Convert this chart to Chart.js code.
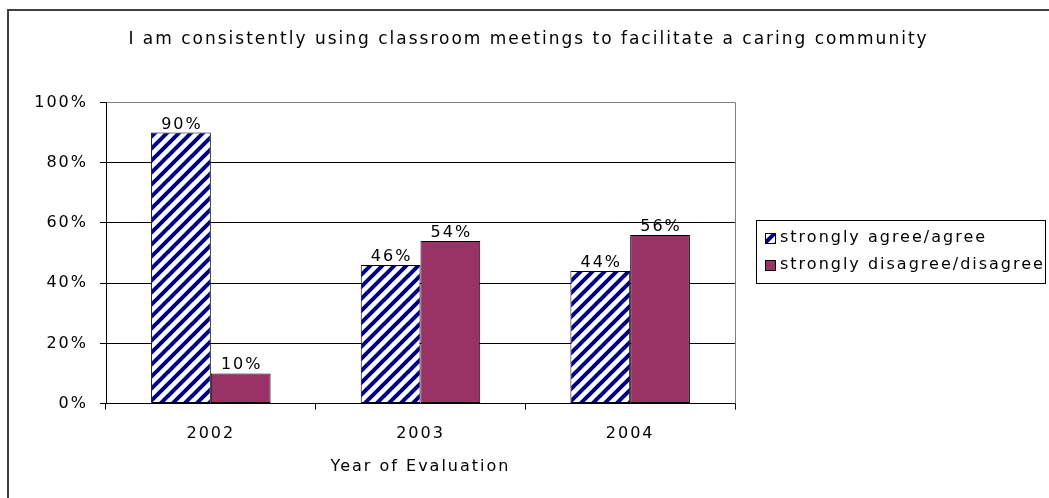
<!DOCTYPE html>
<html>
<head>
<meta charset="utf-8">
<script src="https://cdn.jsdelivr.net/npm/chart.js@4"></script>
<style>
  body { margin: 0; background: #fff; }
  #wrap { width: 1049px; height: 498px; }
</style>
</head>
<body>
<div id="wrap"><canvas id="myChart" width="1049" height="498"></canvas></div>
<script>
var years = ['2002', '2003', '2004'];
var agree = [90, 46, 44];
var disagree = [10, 54, 56];
var seriesNames = ['strongly agree/agree', 'strongly disagree/disagree'];
var chartTitle = 'I am consistently using classroom meetings to facilitate a caring community';
var axisTitle = 'Year of Evaluation';

var FONT = 'DejaVu Sans';

// navy diagonal hatch like the old excel fill
function hatch() {
  var c = document.createElement('canvas');
  c.width = 12; c.height = 12;
  var g = c.getContext('2d');
  g.fillStyle = '#fff';
  g.fillRect(0, 0, 12, 12);
  g.strokeStyle = '#000080';
  g.lineWidth = 4;
  g.beginPath();
  g.moveTo(0, 12); g.lineTo(12, 0);
  g.moveTo(-6, 6); g.lineTo(6, -6);
  g.moveTo(6, 18); g.lineTo(18, 6);
  g.stroke();
  return g.createPattern(c, 'repeat');
}
var navyHatch = hatch();

var spacing = {
  id: 'spacing',
  beforeUpdate: function(chart) { chart.ctx.letterSpacing = '2px'; },
  beforeDraw: function(chart) {
    var ctx = chart.ctx;
    ctx.letterSpacing = '2px';
    ctx.save();
    ctx.fillStyle = '#fff';
    ctx.fillRect(0, 0, chart.width, chart.height);
    // outer frame (only left and top are visible in the picture)
    ctx.strokeStyle = '#404040';
    ctx.lineWidth = 2;
    ctx.beginPath();
    ctx.moveTo(8, chart.height);
    ctx.lineTo(8, 10);
    ctx.lineTo(chart.width, 10);
    ctx.stroke();
    ctx.restore();
  }
};

var extras = {
  id: 'extras',
  afterDatasetsDraw: function(chart) {
    var ctx = chart.ctx;
    ctx.save();
    ctx.font = '16px ' + FONT;
    ctx.fillStyle = '#000';
    ctx.textAlign = 'center';
    ctx.textBaseline = 'alphabetic';
    chart.data.datasets.forEach(function(ds, i) {
      chart.getDatasetMeta(i).data.forEach(function(bar, j) {
        ctx.fillText(ds.data[j] + '%', bar.x + 1, bar.y - 4);
      });
    });
    ctx.restore();
  },
  afterDraw: function(chart) {
    var ctx = chart.ctx;
    var a = chart.chartArea;
    ctx.save();
    // plot area right border
    ctx.strokeStyle = '#808080';
    ctx.lineWidth = 1;
    ctx.beginPath();
    ctx.moveTo(Math.round(a.right) + 0.5, a.top);
    ctx.lineTo(Math.round(a.right) + 0.5, a.bottom);
    ctx.stroke();

    // legend
    var lx = 756, ly = 220, lw = 289, lh = 63;
    ctx.strokeStyle = '#000';
    ctx.strokeRect(lx + 0.5, ly + 0.5, lw, lh);
    ctx.font = '16px ' + FONT;
    ctx.textBaseline = 'middle';
    ctx.textAlign = 'left';
    chart.data.datasets.forEach(function(ds, i) {
      var cy = ly + 18 + i * 27;
      ctx.fillStyle = ds.backgroundColor;
      ctx.fillRect(765, cy - 5, 10, 10);
      ctx.strokeStyle = '#000';
      ctx.strokeRect(765.5, cy - 4.5, 10, 10);
      ctx.fillStyle = '#000';
      ctx.fillText(ds.label, 780, cy);
    });
    ctx.restore();
  }
};

var ctx = document.getElementById('myChart').getContext('2d');
var myChart = new Chart(ctx, {
  type: 'bar',
  data: {
    labels: years,
    datasets: [{
      label: seriesNames[0],
      data: agree,
      backgroundColor: navyHatch,
      borderColor: '#000',
      borderWidth: 1,
      borderSkipped: false
    }, {
      label: seriesNames[1],
      data: disagree,
      backgroundColor: '#993366',
      borderColor: '#000',
      borderWidth: 1,
      borderSkipped: false
    }]
  },
  options: {
    responsive: false,
    animation: false,
    devicePixelRatio: 1,
    layout: { padding: { left: 8, right: 0, top: 0, bottom: 22 } },
    datasets: { bar: { categoryPercentage: 0.57, barPercentage: 1 } },
    plugins: {
      legend: { display: false },
      tooltip: { enabled: false },
      title: {
        display: true,
        text: chartTitle,
        color: '#000',
        font: { family: FONT, size: 17, weight: 'normal' },
        padding: { top: 29, bottom: 53 }
      }
    },
    scales: {
      x: {
        grid: { offset: true, drawOnChartArea: false, color: '#000', tickLength: 6 },
        border: { color: '#000', width: 1 },
        ticks: { color: '#000', font: { family: FONT, size: 16 }, padding: 15 },
        title: {
          display: true,
          text: axisTitle,
          color: '#000',
          font: { family: FONT, size: 16 },
          padding: { top: -2, bottom: 0 }
        }
      },
      y: {
        min: 0,
        max: 100,
        afterFit: function(scale) { scale.width = 98; },
        grid: {
          color: function(c) { return c.tick && c.tick.value === 100 ? '#808080' : '#000'; },
          tickColor: '#000',
          tickLength: 6
        },
        border: { color: '#000', width: 1 },
        ticks: {
          stepSize: 20,
          color: '#000',
          font: { family: FONT, size: 16 },
          padding: 12,
          callback: function(v) { return v + '%'; }
        }
      },
      // empty scale on the right that only keeps room for the legend
      side: {
        type: 'linear',
        position: 'right',
        afterFit: function(scale) { scale.width = 314; },
        grid: { display: false },
        border: { display: false },
        ticks: { display: false }
      }
    }
  },
  plugins: [spacing, extras]
});
</script>
</body>
</html>
